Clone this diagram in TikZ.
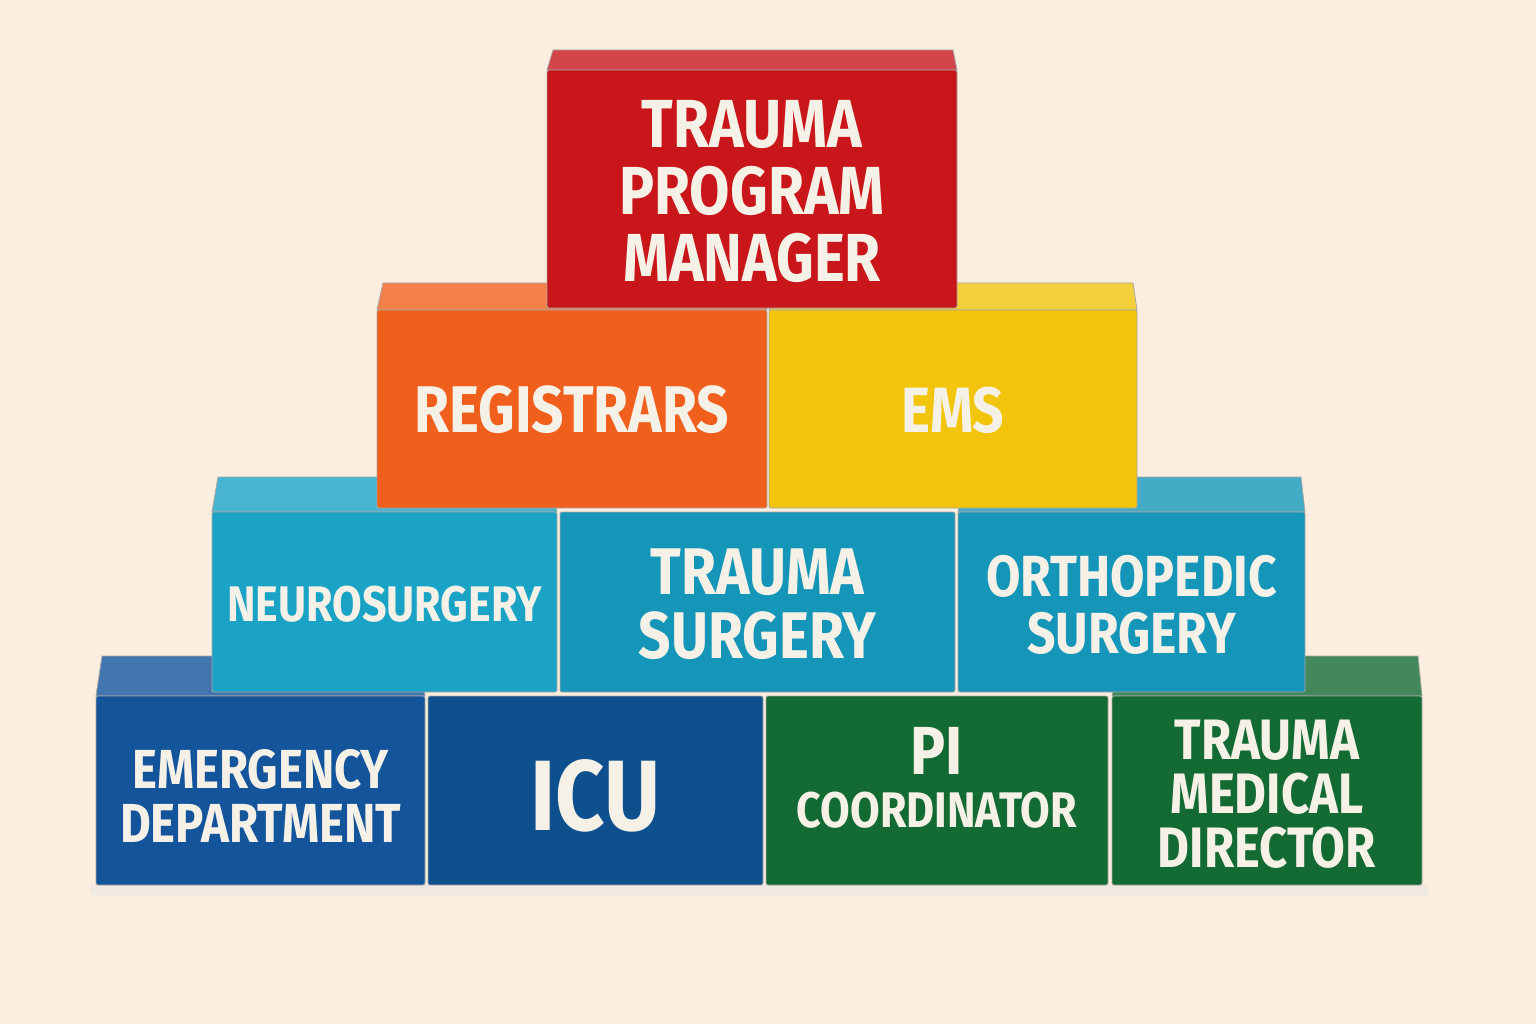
\documentclass[tikz,border=0pt]{standalone}
\usepackage{fontspec}
\newfontfamily\blk{Fira Sans}[FakeStretch=0.86]
\begin{document}
\begin{tikzpicture}[x=1pt,y=-1pt,
  lbl/.style={text=txt,font=\blk\bfseries,align=center,inner sep=0pt},
  edge/.style={draw=black!35,line width=0.8pt}]
\definecolor{bg}{HTML}{FBEEDF}
\definecolor{txt}{HTML}{F6F1E7}
\definecolor{cred}{HTML}{C8161A}
\definecolor{corg}{HTML}{F0601C}
\definecolor{cyel}{HTML}{F2C40C}
\definecolor{ccya}{HTML}{1AA3C4}
\definecolor{cteal}{HTML}{1596B8}
\definecolor{cblu}{HTML}{13549A}
\definecolor{cblu2}{HTML}{0E4F8E}
\definecolor{cgrn}{HTML}{136A32}
\fill[bg] (0,0) rectangle (1536,1024);
\useasboundingbox (0,0) rectangle (1536,1024);
\fill[black!10,opacity=0.5] (90,885) rectangle (1428,895);
\newcommand\blockbox[7]{%
  \fill[#7!80!white,edge] (#2+6,#3-#6) -- (#4-4,#3-#6) -- (#4,#3) -- (#2,#3) -- cycle;
  \fill[#7,edge,rounded corners=2pt] (#2,#3) rectangle (#4,#5);
  \coordinate (#1) at ({(#2+#4)/2},{(#3+#5)/2});}
\blockbox{ed}{96}{696}{425}{885}{40}{cblu}
\blockbox{icu}{428}{696}{763}{885}{0}{cblu2}
\blockbox{pi}{766}{696}{1108}{885}{0}{cgrn}
\blockbox{tmd}{1112}{696}{1422}{885}{40}{cgrn}
\blockbox{neu}{212}{512}{557}{692}{35}{ccya}
\blockbox{ts}{560}{512}{955}{692}{0}{cteal}
\blockbox{ort}{958}{512}{1305}{692}{35}{cteal}
\blockbox{reg}{377}{310}{767}{508}{27}{corg}
\blockbox{ems}{769}{310}{1137}{508}{27}{cyel}
\blockbox{tpm}{547}{70}{957}{308}{20}{cred}
\node[lbl,font=\blk\bfseries\fontsize{68}{67}\selectfont] (tpmt) at ([yshift=-3]tpm) {TRAUMA\\PROGRAM\\MANAGER};
\node[lbl,font=\blk\bfseries\fontsize{66}{62}\selectfont] (regt) at ([yshift=-1]reg) {REGISTRARS};
\node[lbl,font=\blk\bfseries\fontsize{64}{62}\selectfont] (emst) at ([yshift=-1]ems) {EMS};
\node[lbl,font=\blk\bfseries\fontsize{50}{50}\selectfont] (neut) at ([yshift=-2]neu) {NEUROSURGERY};
\node[lbl,font=\blk\bfseries\fontsize{66}{64}\selectfont] (tst) at ([yshift=-2]ts) {TRAUMA\\SURGERY};
\node[lbl,font=\blk\bfseries\fontsize{58}{57}\selectfont] (ortt) at ([yshift=-3]ort) {ORTHOPEDIC\\SURGERY};
\node[lbl,font=\blk\bfseries\fontsize{55}{54}\selectfont] (edt) at ([yshift=-5]ed) {EMERGENCY\\DEPARTMENT};
\node[lbl,font=\blk\bfseries\fontsize{100}{96}\selectfont] (icut) at ([yshift=-5]icu) {ICU};
\node[lbl,font=\blk\bfseries\fontsize{68}{66}\selectfont] (pit1) at ([yshift=40]pi) {PI};
\node[lbl,font=\blk\bfseries\fontsize{50}{50}\selectfont] (pit2) at ([yshift=-20]pi) {COORDINATOR};
\node[lbl,font=\blk\bfseries\fontsize{57}{54}\selectfont] (tmdt) at ([yshift=-4]tmd) {TRAUMA\\MEDICAL\\DIRECTOR};
\end{tikzpicture}
\end{document}
